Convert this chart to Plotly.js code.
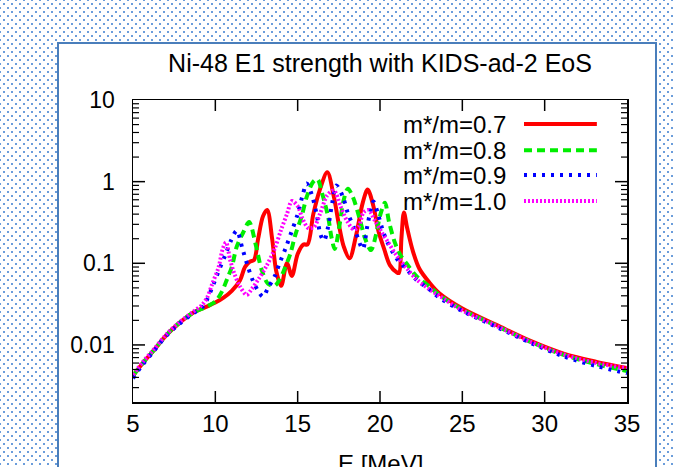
<!DOCTYPE html>
<html>
<head>
<meta charset="utf-8">
<script src="https://cdn.plot.ly/plotly-3.0.1.min.js"></script>
<style>
  html, body { margin: 0; padding: 0; }
  body {
    width: 673px; height: 467px; overflow: hidden; position: relative;
    background-color: #ffffff;
    background-image: radial-gradient(circle, #6b9ddb 0.9px, rgba(255,255,255,0) 1.4px),
                      radial-gradient(circle, #6b9ddb 0.9px, rgba(255,255,255,0) 1.4px);
    background-size: 8px 8px, 8px 8px;
    background-position: 0 0, 4px 4px;
  }
  #box {
    position: absolute; left: 57px; top: 42px; width: 596px; height: 440px;
    background: #ffffff; border: 2px solid #4a7ebb;
  }
  #chart { position: absolute; left: 0; top: 0; width: 673px; height: 467px; }
</style>
</head>
<body>
<div id="box"></div>
<div id="chart"></div>
<script>
// ---- data ----
var title = "Ni-48 E1 strength with KIDS-ad-2 EoS";
var xLabel = "E [MeV]";
var seriesNames = ["m*/m=0.7", "m*/m=0.8", "m*/m=0.9", "m*/m=1.0"];

var E_07 = [5, 5.6, 6.2, 7, 7.8, 8.6, 9.4, 10, 10.5, 11, 11.5, 11.8, 12.1, 12.35, 12.6, 12.9, 13.15, 13.45, 13.7, 14.0, 14.35, 14.65, 15.0, 15.35, 15.6, 15.95, 16.35, 16.8, 17.2, 17.5, 17.8, 18.15, 18.55, 18.95, 19.25, 19.6, 19.9, 20.25, 20.6, 21.0, 21.15, 21.3, 21.45, 21.65, 22.0, 22.4, 23.0, 23.6, 25, 27.1, 29.1, 31.1, 33.15, 35];
var S_07 = [0.0042, 0.006, 0.0083, 0.013, 0.0185, 0.0245, 0.029, 0.033, 0.038, 0.046, 0.062, 0.09, 0.105, 0.11, 0.2, 0.38, 0.45, 0.2, 0.08, 0.053, 0.1, 0.07, 0.13, 0.17, 0.17, 0.4, 0.8, 1.3, 0.65, 0.3, 0.16, 0.115, 0.22, 0.55, 0.8, 0.5, 0.25, 0.15, 0.095, 0.078, 0.076, 0.2, 0.42, 0.27, 0.14, 0.085, 0.058, 0.043, 0.028, 0.0175, 0.0113, 0.0079, 0.0062, 0.0052];

var E_08 = [5, 5.6, 6.2, 7, 7.8, 8.6, 9.4, 10, 10.4, 10.7, 11.0, 11.3, 11.7, 12.05, 12.45, 12.8, 13.2, 13.6, 13.9, 14.2, 14.55, 14.85, 15.25, 15.55, 15.95, 16.2, 16.5, 16.85, 17.05, 17.25, 17.55, 17.8, 18.05, 18.35, 18.75, 19.1, 19.45, 19.75, 20.0, 20.3, 20.55, 20.9, 21.2, 21.6, 22.2, 23.0, 23.6, 25, 27.1, 29.1, 31.1, 33.15, 35];
var S_08 = [0.0042, 0.006, 0.0083, 0.013, 0.0185, 0.0245, 0.029, 0.034, 0.045, 0.063, 0.09, 0.16, 0.24, 0.32, 0.17, 0.085, 0.056, 0.053, 0.063, 0.085, 0.13, 0.22, 0.38, 0.65, 1.0, 1.07, 0.7, 0.37, 0.21, 0.15, 0.3, 0.6, 0.82, 0.65, 0.36, 0.2, 0.145, 0.22, 0.38, 0.55, 0.32, 0.18, 0.13, 0.1, 0.07, 0.052, 0.041, 0.027, 0.017, 0.011, 0.0076, 0.0058, 0.0048];

var E_09 = [5, 5.6, 6.2, 7, 7.8, 8.6, 9.2, 9.5, 9.8, 10.25, 10.6, 10.95, 11.3, 11.65, 12.0, 12.3, 12.65, 12.9, 13.2, 13.6, 13.9, 14.25, 14.55, 15.0, 15.3, 15.55, 15.85, 16.15, 16.4, 16.6, 16.85, 17.1, 17.35, 17.75, 18.05, 18.5, 18.95, 19.25, 19.6, 19.85, 20.1, 20.4, 21.0, 21.6, 22.2, 23.0, 23.6, 25, 27.1, 29.1, 31.1, 33.15, 35];
var S_09 = [0.0039, 0.0058, 0.0081, 0.0128, 0.018, 0.024, 0.029, 0.036, 0.05, 0.085, 0.125, 0.19, 0.25, 0.15, 0.088, 0.06, 0.044, 0.039, 0.05, 0.069, 0.1, 0.15, 0.22, 0.4, 0.68, 0.95, 0.7, 0.4, 0.22, 0.19, 0.28, 0.55, 0.9, 0.65, 0.41, 0.25, 0.15, 0.3, 0.57, 0.42, 0.28, 0.19, 0.115, 0.085, 0.063, 0.048, 0.038, 0.026, 0.0165, 0.0107, 0.0073, 0.0055, 0.0045];

var E_10 = [5, 5.6, 6.2, 7, 7.8, 8.6, 9.2, 9.5, 9.8, 10.2, 10.45, 10.65, 10.9, 11.15, 11.5, 11.9, 12.2, 12.6, 13.1, 13.6, 14.0, 14.35, 14.65, 15.0, 15.3, 15.65, 16.0, 16.35, 16.8, 17.2, 17.6, 18.0, 18.4, 18.7, 19.0, 19.3, 19.7, 20.1, 20.5, 21.0, 21.6, 22.2, 23.0, 23.6, 25, 27.1, 29.1, 31.1, 33.15, 35];
var S_10 = [0.0043, 0.0062, 0.0085, 0.0133, 0.0188, 0.025, 0.031, 0.038, 0.055, 0.09, 0.15, 0.18, 0.11, 0.075, 0.052, 0.041, 0.048, 0.063, 0.092, 0.15, 0.26, 0.4, 0.58, 0.5, 0.35, 0.27, 0.28, 0.4, 0.68, 0.78, 0.5, 0.33, 0.26, 0.28, 0.42, 0.45, 0.33, 0.24, 0.18, 0.125, 0.088, 0.064, 0.048, 0.04, 0.0265, 0.017, 0.011, 0.0077, 0.006, 0.0052];

var xRange = [5, 35];
var yRange = [0.002, 10];
var xTickVals = [5, 10, 15, 20, 25, 30, 35];
var yTickVals = [0.01, 0.1, 1, 10];
var yTickText = ["0.01", "0.1", "1", "10"];
var yMinorTickVals = [0.003, 0.004, 0.005, 0.006, 0.007, 0.008, 0.009,
                      0.02, 0.03, 0.04, 0.05, 0.06, 0.07, 0.08, 0.09,
                      0.2, 0.3, 0.4, 0.5, 0.6, 0.7, 0.8, 0.9,
                      2, 3, 4, 5, 6, 7, 8, 9];

// ---- styling ----
var colors = ["#ff0000", "#00ee00", "#0000ff", "#ff00ff"];
var dashes = ["solid", "8px,5px", "3px,6px", "2px,2px"];
var widths = [4, 4, 4, 4];
var font = "Liberation Sans, Arial, sans-serif";
var plotW = 494, plotH = 302;   // plot area size in px (673-133-46, 467-100-65)

var xs = [E_07, E_08, E_09, E_10];
var ys = [S_07, S_08, S_09, S_10];
var traces = [];
for (var i = 0; i < 4; i++) {
  traces.push({
    x: xs[i], y: ys[i], type: "scatter", mode: "lines", name: seriesNames[i],
    line: {color: colors[i], width: widths[i], dash: dashes[i], shape: "spline", smoothing: 0.9},
    showlegend: false
  });
}

var annotations = [];
var shapes = [];

// gnuplot-style ticks: inside, mirrored on all four sides, placed at the tick values
function xFrac(v) { return (v - xRange[0]) / (xRange[1] - xRange[0]); }
function yFrac(v) { var a = Math.log10(yRange[0]), b = Math.log10(yRange[1]); return (Math.log10(v) - a) / (b - a); }
function tickLine(axis, v, len, w) {
  var st = {color: "#000", width: w};
  if (axis === "x") {
    var fx = xFrac(v);
    shapes.push({type: "line", layer: "above", xref: "paper", yref: "paper", x0: fx, x1: fx, y0: 0, y1: len / plotH, line: st});
    shapes.push({type: "line", layer: "above", xref: "paper", yref: "paper", x0: fx, x1: fx, y0: 1, y1: 1 - len / plotH, line: st});
  } else {
    var fy = yFrac(v);
    shapes.push({type: "line", layer: "above", xref: "paper", yref: "paper", x0: 0, x1: len / plotW, y0: fy, y1: fy, line: st});
    shapes.push({type: "line", layer: "above", xref: "paper", yref: "paper", x0: 1, x1: 1 - len / plotW, y0: fy, y1: fy, line: st});
  }
}
xTickVals.slice(1, -1).forEach(function(v){ tickLine("x", v, 11, 1.5); });
yTickVals.slice(0, -1).forEach(function(v){ tickLine("y", v, 12, 1.5); });
yMinorTickVals.forEach(function(v){ tickLine("y", v, 6, 1.2); });

// legend drawn gnuplot-style: text on the left, sample line on the right
var legRowsY = [0.9205, 0.834, 0.7517, 0.6656];
for (var j = 0; j < 4; j++) {
  annotations.push({
    text: seriesNames[j], xref: "paper", yref: "paper", x: 0.757, y: legRowsY[j],
    xanchor: "right", yanchor: "middle", showarrow: false, height: 24, borderpad: 0,
    font: {family: font, size: 24, color: "#000"}
  });
  shapes.push({
    type: "line", xref: "paper", yref: "paper", x0: 0.7915, x1: 0.939,
    y0: legRowsY[j], y1: legRowsY[j],
    line: {color: colors[j], width: widths[j], dash: dashes[j]}
  });
}

// x axis title (sits at the bottom edge, partly cut like in the reference)
annotations.push({
  text: xLabel, xref: "paper", yref: "paper", x: 0.5, y: -(463 - 402) / plotH,
  xanchor: "center", yanchor: "middle", showarrow: false,
  font: {family: font, size: 24, color: "#000"}
});

var layout = {
  width: 673, height: 467,
  margin: {l: 133, r: 46, t: 100, b: 65},
  paper_bgcolor: "rgba(0,0,0,0)",
  plot_bgcolor: "rgba(0,0,0,0)",
  showlegend: false,
  title: {text: title, font: {family: font, size: 25, color: "#000"},
          x: 0.5, xref: "paper", y: 1 - 63/467, yref: "container", yanchor: "middle"},
  xaxis: {
    range: xRange, tickmode: "array", tickvals: xTickVals, ticks: "",
    showline: true, linecolor: "#000", linewidth: 1.5, mirror: true,
    showgrid: false, zeroline: false,
    tickfont: {family: font, size: 24, color: "#000"}
  },
  yaxis: {
    type: "log", range: [Math.log10(yRange[0]), Math.log10(yRange[1])], tickmode: "array",
    tickvals: yTickVals, ticktext: yTickText,
    ticks: "", showline: true, linecolor: "#000", linewidth: 1.5, mirror: true,
    showgrid: false, zeroline: false, ticklabelstandoff: 12,
    tickfont: {family: font, size: 23, color: "#000"}
  },
  annotations: annotations,
  shapes: shapes
};

Plotly.newPlot("chart", traces, layout, {staticPlot: true, displayModeBar: false});
</script>
</body>
</html>
